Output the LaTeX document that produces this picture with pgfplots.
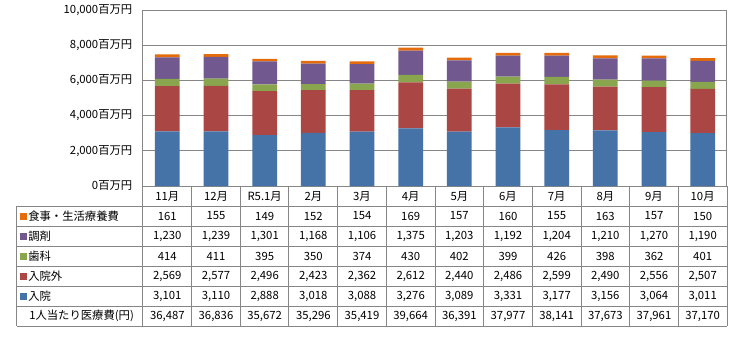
\documentclass[border=0pt]{standalone}
\usepackage{pgfplots}
\usepackage{pgfplotstable}
\pgfplotsset{compat=1.18}
\usepackage{fontspec}
\setmainfont{Noto Sans CJK JP}
\definecolor{cBlue}{HTML}{4572A7}
\definecolor{cRed}{HTML}{AA4643}
\definecolor{cGreen}{HTML}{89A54E}
\definecolor{cPurple}{HTML}{71588F}
\definecolor{cOrange}{HTML}{E46C0A}
\definecolor{gridgray}{HTML}{868686}
\pgfplotstableread{
x nyuin gai shika chozai shoku per
0 3101 2569 414 1230 161 36487
1 3110 2577 411 1239 155 36836
2 2888 2496 395 1301 149 35672
3 3018 2423 350 1168 152 35296
4 3088 2362 374 1106 154 35419
5 3276 2612 430 1375 169 39664
6 3089 2440 402 1203 157 36391
7 3331 2486 399 1192 160 37977
8 3177 2599 426 1204 155 38141
9 3156 2490 398 1210 163 37673
10 3064 2556 362 1270 157 37961
11 3011 2507 401 1190 150 37170
}\data
\pgfkeys{/pgf/number format/.cd,fixed,precision=0,1000 sep={,},assume math mode=true}
\newcommand{\fs}{\fontsize{8.5}{10}\selectfont}
\begin{document}
\begin{tikzpicture}
\begin{axis}[
  scale only axis,
  width=438pt, height=132pt,
  xmin=-0.5, xmax=11.5, ymin=0, ymax=10000,
  ybar stacked, bar width=0.51,
  xtick=data,
  xticklabels={11月,12月,R5.1月,2月,3月,4月,5月,6月,7月,8月,9月,10月},
  ytick={0,2000,4000,6000,8000,10000},
  scaled y ticks=false,
  yticklabel={\pgfmathprintnumber[fixed,precision=0,1000 sep={,},assume math mode=true]{\tick}百万円},
  /pgf/number format/assume math mode=true,
  ymajorgrids,
  grid style={color=gridgray, line width=0.75pt},
  axis line style={gridgray, line width=0.75pt},
  major tick length=0pt,
  tick label style={font=\fs, text=black},
  xticklabel style={anchor=center, yshift=-7.5pt},
  yticklabel style={anchor=east, xshift=-4.5pt},
]
\addplot[fill=cBlue, draw=none] table[x=x,y=nyuin]{\data};
\addplot[fill=cRed, draw=none] table[x=x,y=gai]{\data};
\addplot[fill=cGreen, draw=none] table[x=x,y=shika]{\data};
\addplot[fill=cPurple, draw=none] table[x=x,y=chozai]{\data};
\addplot[fill=cOrange, draw=none] table[x=x,y=shoku]{\data};
\end{axis}
\begin{scope}[shift={(-107.25pt,139.5pt)}, x=0.75pt, y=-0.75pt]
  \path[use as bounding box] (0,0) rectangle (733,340);
  % table lines
  \foreach \yy in {206,226,246,266,286,306,326}
    \draw[gridgray, line width=0.75pt] (17,\yy) -- (727,\yy);
  \draw[gridgray, line width=0.75pt] (17,206) -- (17,326);
  \foreach \i in {0,...,12}
    \draw[gridgray, line width=0.75pt] ({143+\i*48.6667},186) -- ({143+\i*48.6667},326);
  % legend labels
  \foreach \yy/\col/\lab in {216/cOrange/食事・生活療養費, 236/cPurple/調剤, 256/cGreen/歯科, 276/cRed/入院外, 296/cBlue/入院}{
    \fill[\col] (20.5,\yy-3.5) rectangle (27,\yy+3.5);
    \node[anchor=west, inner sep=0pt, font=\fs] at (28,\yy) {\lab};
  }
  \node[anchor=west, inner sep=0pt, font=\fs] at (29,316) {1人当たり医療費(円)};
  % values
  \foreach \i in {0,...,11}{
    \foreach \col/\yy in {shoku/216, chozai/236, shika/256, gai/276, nyuin/296, per/316}{
      \pgfplotstablegetelem{\i}{\col}\of\data
      \node[font=\fs, inner sep=0pt] at ({143+(\i+0.5)*48.6667},\yy) {\pgfmathprintnumber{\pgfplotsretval}};
    }
  }
\end{scope}
\end{tikzpicture}
\end{document}
